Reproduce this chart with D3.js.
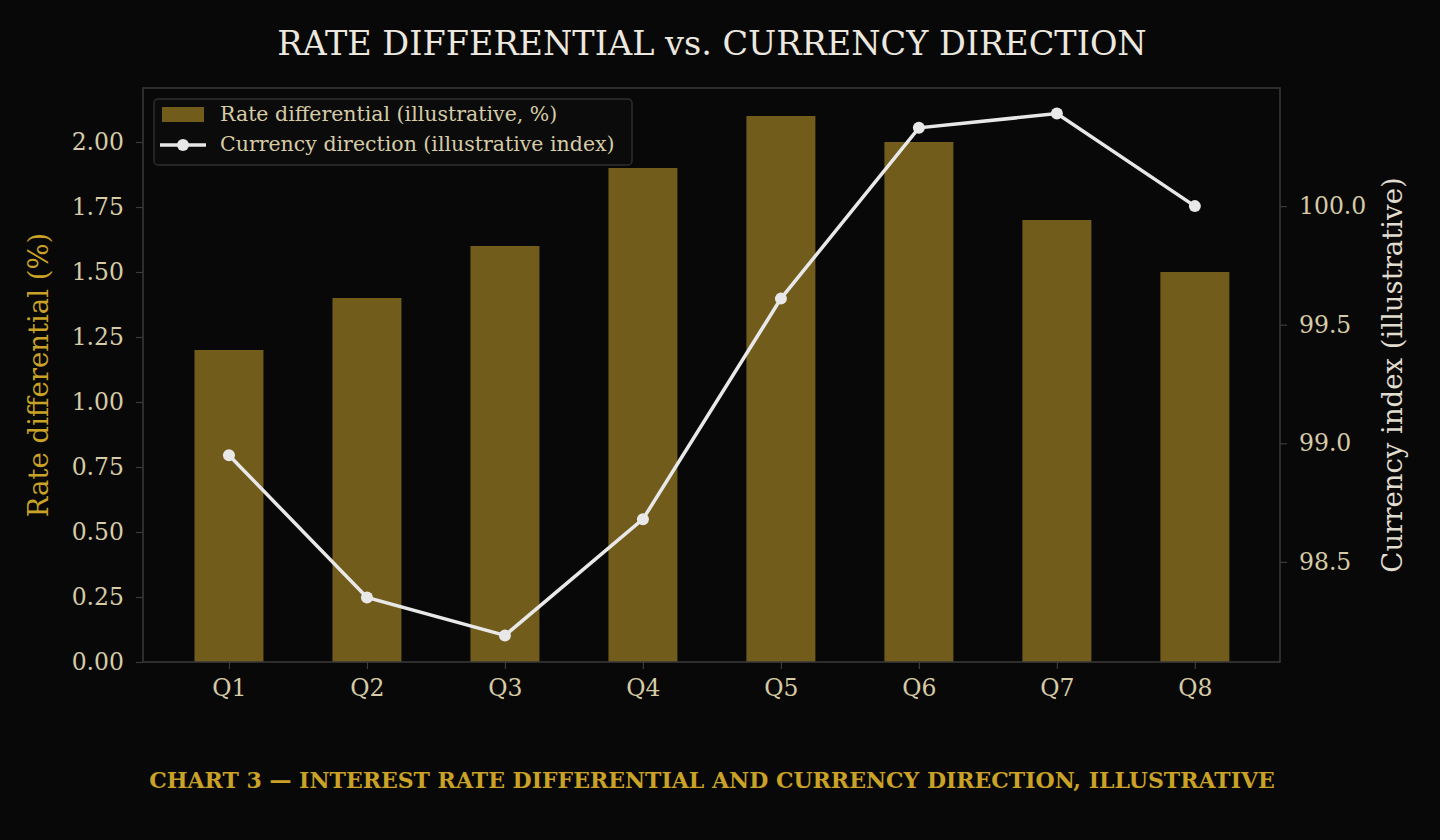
<!DOCTYPE html>
<html><head><meta charset="utf-8">
<script src="https://cdn.jsdelivr.net/npm/d3@7"></script>
<style>html,body{margin:0;background:#080808;}svg{display:block;}</style>
</head><body><svg id="c" width="1440" height="840"></svg>
<script>
const categories = ["Q1","Q2","Q3","Q4","Q5","Q6","Q7","Q8"];
const rateDiff = [1.2,1.4,1.6,1.9,2.1,2.0,1.7,1.5];
const currencyIdx = [98.95,98.35,98.19,98.68,99.61,100.33,100.39,100.0];
const leftTicks = [0,0.25,0.5,0.75,1.0,1.25,1.5,1.75,2.0];
const rightTicks = [98.5,99.0,99.5,100.0];

const svg = d3.select("#c");
const F = "'DejaVu Serif', serif";
const L=143,R=1280,T=88,B=662;
const tickCol="#d6cba6", gold="#c9a227", barCol="#715c1c", lineCol="#e8e8e8", spine="#3a3a3a";
const x = d3.scaleLinear().domain([-0.623,7.617]).range([L,R]);
const y = d3.scaleLinear().domain([0,2.2077]).range([B,T]);
const y2 = d3.scaleLinear().domain([98.078,100.498]).range([B,T]);
const bw = (x(1)-x(0))*0.5;

svg.append("g").selectAll("rect").data(rateDiff).join("rect")
  .attr("x",(d,i)=>x(i)-bw/2).attr("width",bw)
  .attr("y",d=>y(d)).attr("height",d=>B-y(d)).attr("fill",barCol);

svg.append("rect").attr("x",L).attr("y",T).attr("width",R-L).attr("height",B-T)
  .attr("fill","none").attr("stroke",spine).attr("stroke-width",1.5);

function styleAxis(g){g.select(".domain").remove();
  g.selectAll(".tick line").attr("stroke",spine).attr("stroke-width",1.2);
  g.selectAll("text").attr("fill",tickCol).attr("font-family",F).attr("font-size",23.5);}
svg.append("g").attr("transform",`translate(${L},0)`)
  .call(d3.axisLeft(y).tickValues(leftTicks).tickFormat(d3.format(".2f")).tickSize(7).tickPadding(12)).call(styleAxis);
svg.append("g").attr("transform",`translate(${R},0)`)
  .call(d3.axisRight(y2).tickValues(rightTicks).tickFormat(d3.format(".1f")).tickSize(7).tickPadding(12)).call(styleAxis);
svg.append("g").attr("transform",`translate(0,${B})`)
  .call(d3.axisBottom(x).tickValues(d3.range(categories.length)).tickFormat(i=>categories[i]).tickSize(7).tickPadding(10)).call(styleAxis);

const line = d3.line().x((d,i)=>x(i)).y(d=>y2(d));
svg.append("path").datum(currencyIdx).attr("d",line).attr("fill","none")
  .attr("stroke",lineCol).attr("stroke-width",3.5);
svg.append("g").selectAll("circle").data(currencyIdx).join("circle")
  .attr("cx",(d,i)=>x(i)).attr("cy",d=>y2(d)).attr("r",6).attr("fill",lineCol);

svg.append("text").attr("x",712).attr("y",55).attr("text-anchor","middle")
  .attr("fill","#ece8df").attr("font-family",F).attr("font-size",33.5).text("RATE DIFFERENTIAL vs. CURRENCY DIRECTION");
svg.append("text").attr("transform","translate(48,375) rotate(-90)").attr("text-anchor","middle")
  .attr("fill",gold).attr("font-family",F).attr("font-size",27.5).text("Rate differential (%)");
svg.append("text").attr("transform","translate(1402,375) rotate(-90)").attr("text-anchor","middle")
  .attr("fill","#e0dccf").attr("font-family",F).attr("font-size",27.5).text("Currency index (illustrative)");
svg.append("text").attr("x",712).attr("y",788).attr("text-anchor","middle")
  .attr("fill",gold).attr("font-family",F).attr("font-size",22).attr("font-weight","bold").text("CHART 3 — INTEREST RATE DIFFERENTIAL AND CURRENCY DIRECTION, ILLUSTRATIVE");

const lg = svg.append("g");
lg.append("rect").attr("x",154).attr("y",99).attr("width",478).attr("height",66).attr("rx",4)
  .attr("fill","#0b0b0b").attr("stroke","#2e2e2e").attr("stroke-width",1.5);
lg.append("rect").attr("x",162).attr("y",107).attr("width",42).attr("height",15).attr("fill",barCol);
lg.append("line").attr("x1",160).attr("x2",206).attr("y1",145).attr("y2",145).attr("stroke",lineCol).attr("stroke-width",3.5);
lg.append("circle").attr("cx",183).attr("cy",145).attr("r",6).attr("fill",lineCol);
lg.append("text").attr("x",220).attr("y",121).attr("fill",tickCol).attr("font-family",F).attr("font-size",20.5).text("Rate differential (illustrative, %)");
lg.append("text").attr("x",220).attr("y",151).attr("fill",tickCol).attr("font-family",F).attr("font-size",20.5).text("Currency direction (illustrative index)");
</script></body></html>
